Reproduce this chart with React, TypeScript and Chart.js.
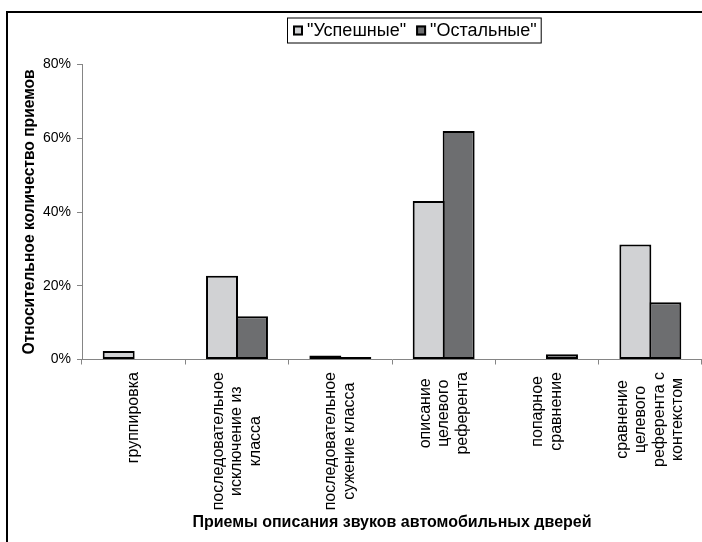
import React, { useEffect, useRef } from "react";
import { Chart, registerables } from "chart.js";

Chart.register(...registerables);

// Categories (each entry is the list of lines of the rotated label)
const categoryLines: string[][] = [
  ["группировка"],
  ["последовательное", "исключение из", "класса"],
  ["последовательное", "сужение класса"],
  ["описание", "целевого", "референта"],
  ["попарное", "сравнение"],
  ["сравнение", "целевого", "референта с", "контекстом"],
];

const seriesNames = ['"Успешные"', '"Остальные"'];

// Share of techniques, percent
const successfulValues = [2.3, 22.7, 1.1, 43.0, 0, 31.2];
const otherValues = [0, 11.7, 0.7, 62.0, 1.4, 15.5];

const yTickLabels = ["0%", "20%", "40%", "60%", "80%"];

const xTitle = "Приемы описания звуков автомобильных дверей";
const yTitle = "Относительное количество приемов";

const FONT = 'Arial, "Liberation Sans", sans-serif';
const LIGHT = "#d1d2d4";
const DARK = "#6d6e70";
const AXIS_GRAY = "#858585";

const W = 702;
const H = 542;

// White page plus the frame's top and left edges
const framePlugin = {
  id: "frame",
  beforeDraw(chart: any) {
    const ctx = chart.ctx;
    ctx.save();
    ctx.fillStyle = "#ffffff";
    ctx.fillRect(0, 0, chart.width, chart.height);
    ctx.restore();
  },
  afterDraw(chart: any) {
    const ctx = chart.ctx;
    ctx.save();
    ctx.strokeStyle = "#000000";
    ctx.lineWidth = 2;
    ctx.beginPath();
    ctx.moveTo(7, chart.height + 2);
    ctx.lineTo(7, 12);
    ctx.lineTo(chart.width + 2, 12);
    ctx.stroke();
    ctx.restore();
  },
};

// Rotated multi-line category labels under the x axis
const categoryLabelPlugin = {
  id: "categoryLabels",
  afterDraw(chart: any) {
    const xs = chart.scales.x;
    const ctx = chart.ctx;
    const lineHeight = 18.5;
    const top = xs.top + 12.5;
    ctx.save();
    ctx.font = `16px ${FONT}`;
    ctx.fillStyle = "#000000";
    ctx.textBaseline = "middle";
    ctx.textAlign = "center";
    (chart.data.labels as any[]).forEach((lab, i) => {
      const lines: string[] = Array.isArray(lab) ? lab : [String(lab)];
      const w = Math.max(...lines.map((l) => ctx.measureText(l).width));
      const x = xs.getPixelForTick(i);
      ctx.save();
      ctx.translate(x, top);
      ctx.rotate(-Math.PI / 2);
      lines.forEach((line, k) => {
        ctx.fillText(line, -w / 2, (k - (lines.length - 1) / 2) * lineHeight);
      });
      ctx.restore();
    });
    ctx.restore();
  },
};

// Boxed legend at the top
const legendBoxPlugin = {
  id: "legendBox",
  afterDraw(chart: any) {
    const ctx = chart.ctx;
    const left = 287;
    const top = 17.5;
    const height = 25;
    const sq = 10;
    const padL = 6;
    const sqGap = 4;
    const itemGap = 10;
    const padR = 4;
    ctx.save();
    ctx.font = `18px ${FONT}`;
    const items = chart.data.datasets.map((ds: any) => ({
      label: ds.label as string,
      color: ds.backgroundColor as string,
      w: ctx.measureText(ds.label).width,
    }));
    let total = padL + padR;
    items.forEach((it: any, i: number) => {
      total += sq + sqGap + it.w + (i > 0 ? itemGap : 0);
    });
    ctx.strokeStyle = "#000000";
    ctx.lineWidth = 1;
    ctx.strokeRect(left + 0.5, top + 0.5, total, height);
    const cy = top + height / 2 + 0.5;
    let x = left + padL;
    ctx.textBaseline = "middle";
    ctx.textAlign = "left";
    items.forEach((it: any, i: number) => {
      if (i > 0) x += itemGap;
      ctx.fillStyle = it.color;
      ctx.fillRect(x, cy - sq / 2, sq, sq);
      ctx.lineWidth = 2;
      ctx.strokeStyle = "#000000";
      ctx.strokeRect(x + 1, cy - sq / 2 + 1, sq - 2, sq - 2);
      x += sq + sqGap;
      ctx.fillStyle = "#000000";
      ctx.fillText(it.label, x, cy + 1);
      x += it.w;
    });
    ctx.restore();
  },
};

export default function App() {
  const canvasRef = useRef<HTMLCanvasElement | null>(null);

  useEffect(() => {
    const canvas = canvasRef.current;
    if (!canvas) return;
    const barStyle = {
      borderColor: "#000000",
      borderWidth: 2,
      borderSkipped: false as const,
      inflateAmount: 0,
      categoryPercentage: 0.58,
      barPercentage: 1.067,
    };
    const chart = new Chart(canvas, {
      type: "bar",
      data: {
        labels: categoryLines,
        datasets: [
          { label: seriesNames[0], data: successfulValues, backgroundColor: LIGHT, ...barStyle },
          { label: seriesNames[1], data: otherValues, backgroundColor: DARK, ...barStyle },
        ],
      },
      options: {
        animation: false,
        responsive: false,
        devicePixelRatio: 1,
        layout: { padding: { top: 64.5, left: 0, right: 0, bottom: 0 } },
        plugins: {
          legend: { display: false },
          tooltip: { enabled: false },
        },
        scales: {
          x: {
            offset: true,
            grid: {
              offset: true,
              drawOnChartArea: false,
              drawTicks: true,
              tickLength: 5,
              color: AXIS_GRAY,
              lineWidth: 1,
            },
            border: { display: true, color: AXIS_GRAY, width: 1 },
            ticks: { display: false },
            title: {
              display: true,
              text: xTitle,
              color: "#000000",
              font: { family: FONT, size: 16, weight: "bold" },
              padding: { top: 0, bottom: 9.5 },
            },
            afterFit: (s: any) => {
              s.height = 182.5;
            },
          },
          y: {
            min: 0,
            max: 80,
            ticks: {
              stepSize: 20,
              color: "#000000",
              font: { family: FONT, size: 14 },
              padding: 6,
              callback: (_v: any, i: number) => yTickLabels[i],
            },
            grid: {
              drawOnChartArea: false,
              drawTicks: true,
              tickLength: 5,
              color: AXIS_GRAY,
              lineWidth: 1,
            },
            border: { display: true, color: AXIS_GRAY, width: 1 },
            title: {
              display: true,
              text: yTitle,
              color: "#000000",
              font: { family: FONT, size: 15.6, weight: "bold" },
              padding: { top: 20.6, bottom: 0 },
            },
            afterFit: (s: any) => {
              s.width = 82;
            },
          },
        },
      } as any,
      plugins: [framePlugin, categoryLabelPlugin, legendBoxPlugin],
    });
    return () => chart.destroy();
  }, []);

  return (
    <div style={{ position: "fixed", left: 0, top: 0, width: W, height: H, background: "#ffffff" }}>
      <canvas ref={canvasRef} width={W} height={H} style={{ display: "block", width: W, height: H }} />
    </div>
  );
}
